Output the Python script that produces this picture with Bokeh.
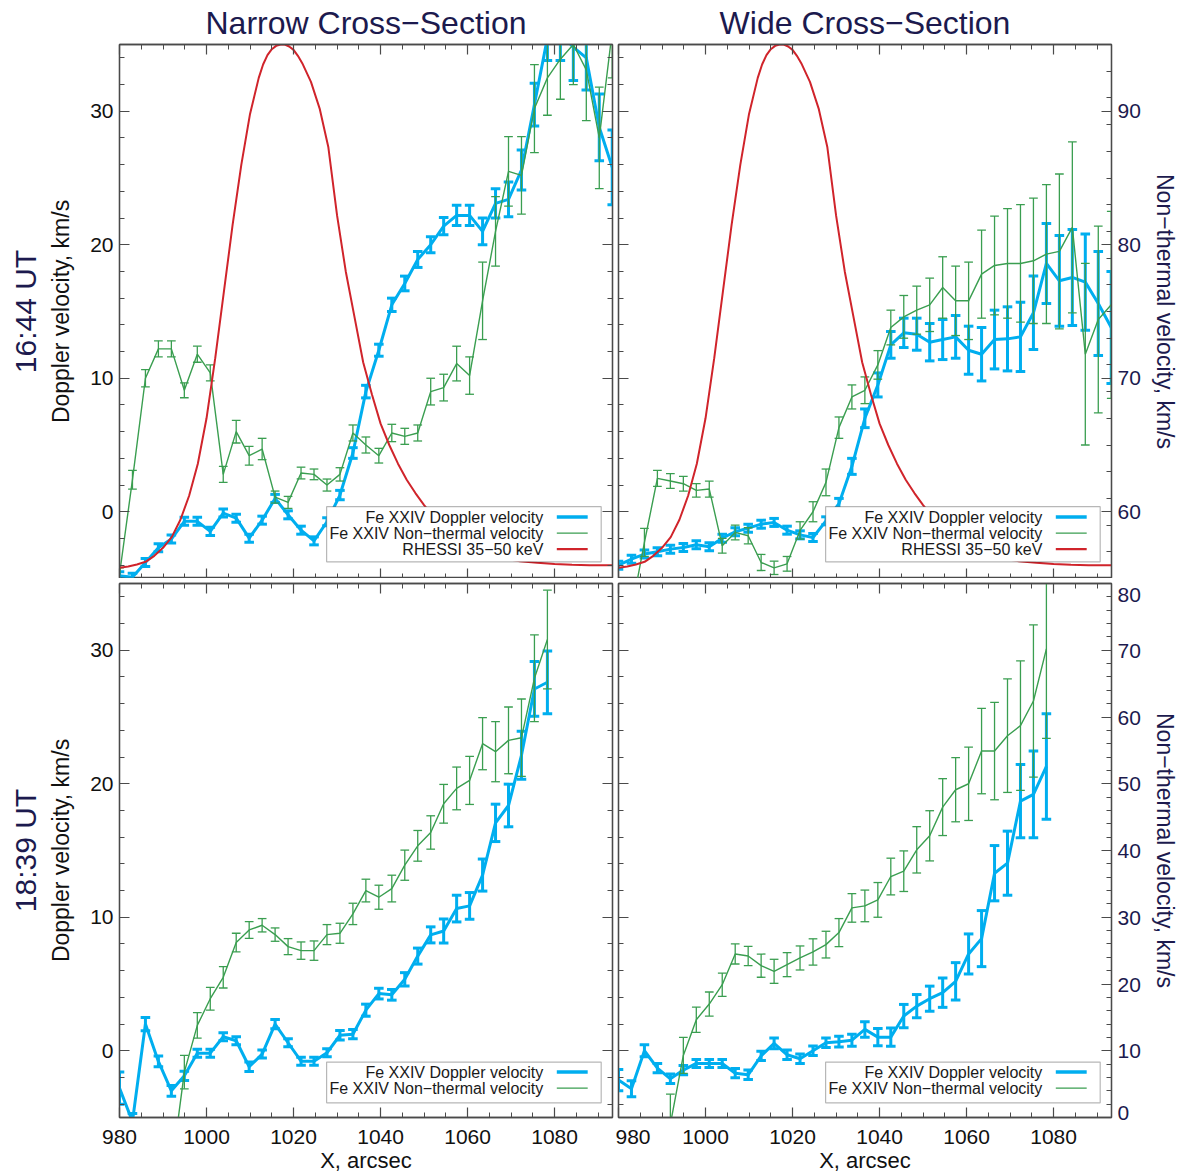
from bokeh.plotting import figure
from bokeh.models import Range1d, LinearAxis, FixedTicker, Title, BoxAnnotation, Label, Arrow
from bokeh.layouts import column, row
from bokeh.embed import file_html
from bokeh.resources import INLINE

NAN = float("nan")

# ---------------- data ----------------
# positions along the cross-sections, arcsec
x_top = [980.0, 982.98, 985.96, 988.94, 991.92, 994.9, 997.88, 1000.86, 1003.84, 1006.82,
         1009.8, 1012.78, 1015.76, 1018.74, 1021.72, 1024.7, 1027.68, 1030.66, 1033.64, 1036.62,
         1039.6, 1042.58, 1045.56, 1048.54, 1051.52, 1054.5, 1057.48, 1060.46, 1063.44, 1066.42,
         1069.4, 1072.38, 1075.36, 1078.34, 1081.32, 1084.3, 1087.28, 1090.26, 1093.24]
x_bot = [980.0, 982.98, 985.96, 988.94, 991.92, 994.9, 997.88, 1000.86, 1003.84, 1006.82,
         1009.8, 1012.78, 1015.76, 1018.74, 1021.72, 1024.7, 1027.68, 1030.66, 1033.64, 1036.62,
         1039.6, 1042.58, 1045.56, 1048.54, 1051.52, 1054.5, 1057.48, 1060.46, 1063.44, 1066.42,
         1069.4, 1072.38, 1075.36, 1078.34]

# 16:44 UT, narrow cross-section
narrow_1644_doppler = [-4.8, -4.9, -3.8, -2.7, -2.05, -0.72, -0.72, -1.47, -0.1, -0.48,
                       -1.98, -0.63, 1.0, -0.23, -1.38, -2.18, -0.75, 1.25, 4.4, 9.0,
                       12.1, 15.5, 17.1, 18.9, 20.0, 21.4, 22.2, 22.2, 21.0, 23.1,
                       23.4, 25.6, 30.5, 35.5, 35.8, 34.8, 34.0, 28.8, 25.8]
narrow_1644_doppler_err = [0.3, 0.3, 0.3, 0.3, 0.3, 0.3, 0.3, 0.3, 0.3, 0.3,
                           0.3, 0.3, 0.3, 0.3, 0.3, 0.3, 0.3, 0.35, 0.4, 0.47,
                           0.45, 0.5, 0.55, 0.6, 0.6, 0.65, 0.75, 0.75, 1.0, 1.1,
                           1.3, 1.5, 1.6, 1.7, 2.0, 2.5, 2.4, 2.5, 2.8]
narrow_1644_nonthermal = [55.3, 62.4, 70.0, 72.2, 72.2, 69.1, 71.8, 70.4, 62.8, 66.0,
                          64.2, 64.7, 61.1, 60.7, 62.9, 62.8, 62.0, 62.8, 65.9, 65.0,
                          64.2, 65.9, 65.65, 65.9, 69.0, 69.3, 71.1, 70.2, 75.8, 81.0,
                          85.5, 85.2, 90.2, 92.5, 93.9, 95.0, 93.1, 88.0, 96.0]
narrow_1644_nonthermal_err = [0.5, 0.7, 0.65, 0.6, 0.6, 0.56, 0.6, 0.6, 0.6, 0.85,
                              0.7, 0.8, 0.45, 0.45, 0.44, 0.4, 0.45, 0.5, 0.6, 0.6,
                              0.55, 0.65, 0.6, 0.6, 1.0, 1.0, 1.3, 1.4, 2.9, 2.6,
                              2.6, 2.9, 3.3, 2.8, 3.0, 3.0, 3.8, 3.8, 3.5]

# 16:44 UT, wide cross-section
wide_1644_doppler = [-4.0, -3.55, -3.17, -3.0, -2.8, -2.68, -2.47, -2.62, -1.98, -1.5,
                     -1.23, -0.93, -0.8, -1.38, -1.73, -1.93, -0.68, 0.6, 3.4, 7.0,
                     9.5, 12.5, 13.4, 13.3, 12.7, 12.9, 13.1, 12.1, 11.8, 12.9,
                     12.95, 13.1, 14.9, 18.6, 17.3, 17.55, 17.2, 15.6, 13.8]
wide_1644_doppler_err = [0.3, 0.3, 0.3, 0.3, 0.3, 0.3, 0.3, 0.3, 0.3, 0.3,
                         0.3, 0.3, 0.3, 0.3, 0.3, 0.3, 0.3, 0.4, 0.6, 0.7,
                         0.9, 1.0, 1.1, 1.2, 1.4, 1.5, 1.6, 1.8, 2.0, 2.2,
                         2.4, 2.6, 2.75, 3.0, 3.4, 3.6, 3.6, 3.9, 4.2]
wide_1644_nonthermal = [49.0, 52.6, 57.7, 62.5, 62.3, 62.1, 61.6, 61.7, 57.45, 58.45,
                        58.2, 56.2, 55.8, 56.1, 58.6, 60.0, 62.2, 66.3, 68.6, 69.1,
                        71.0, 73.8, 74.6, 75.1, 75.5, 76.8, 75.8, 75.8, 77.8, 78.45,
                        78.6, 78.6, 78.8, 79.3, 79.5, 81.3, 71.8, 74.4, 75.5]
wide_1644_nonthermal_err = [0.8, 0.9, 1.05, 0.6, 0.55, 0.55, 0.5, 0.6, 0.55, 0.55,
                            0.6, 0.6, 0.5, 0.55, 0.65, 0.75, 1.0, 0.8, 0.9, 1.0,
                            1.07, 1.3, 1.6, 1.8, 2.0, 2.3, 2.6, 2.9, 3.3, 3.7,
                            4.1, 4.4, 4.7, 5.2, 5.8, 6.4, 6.8, 7.0, 7.0]

# RHESSI 35-50 keV profile (drawn in Doppler-axis units, as in the original)
rhessi_x = [980, 982, 984, 986, 988, 990, 992, 994, 996, 998,
            1000, 1002, 1004, 1006, 1008, 1010, 1012, 1013, 1014, 1015,
            1016, 1017, 1018, 1019, 1020, 1021, 1022, 1024, 1026, 1028,
            1030, 1032, 1034, 1036, 1038, 1040, 1042, 1044, 1046, 1048,
            1050, 1052, 1054, 1056, 1058, 1060, 1064, 1068, 1072, 1076,
            1080, 1084, 1088, 1093.3]
rhessi_y = [-4.2, -4.1, -3.95, -3.75, -3.3, -2.7, -1.9, -0.6, 1.2, 3.6,
            7.0, 11.5, 16.5, 21.5, 26.0, 29.8, 32.5, 33.5, 34.2, 34.65,
            34.9, 35.0, 35.0, 34.85, 34.6, 34.15, 33.6, 32.2, 30.2, 27.3,
            22.2, 18.0, 14.6, 11.2, 8.8, 6.6, 5.0, 3.6, 2.4, 1.4,
            0.5, -0.3, -1.0, -1.6, -2.1, -2.5, -3.1, -3.5, -3.7, -3.82,
            -3.92, -3.97, -4.0, -4.0]

# 18:39 UT, narrow cross-section
narrow_1839_doppler = [-2.8, -5.3, 2.0, -0.8, -3.0, -1.88, -0.18, -0.18, 1.05, 0.75,
                       -1.2, -0.25, 2.0, 0.6, -0.78, -0.78, -0.15, 1.16, 1.24, 3.04,
                       4.28, 4.19, 5.35, 7.09, 8.68, 8.97, 10.65, 10.85, 13.16, 17.07,
                       18.37, 22.13, 27.1, 27.6]
narrow_1839_doppler_err = [1.2, 0.6, 0.5, 0.4, 0.4, 0.35, 0.3, 0.3, 0.3, 0.3,
                           0.35, 0.3, 0.35, 0.3, 0.3, 0.3, 0.3, 0.35, 0.35, 0.45,
                           0.4, 0.4, 0.5, 0.6, 0.6, 0.9, 1.0, 1.0, 1.2, 1.4,
                           1.6, 1.8, 2.05, 2.35]
narrow_1839_nonthermal = [NAN, NAN, NAN, NAN, -8.0, 6.8, 13.8, 17.8, 21.0, 26.2,
                          28.1, 28.8, 27.4, 25.6, 25.0, 25.0, 27.4, 27.6, 30.5, 34.0,
                          33.0, 34.3, 37.8, 40.7, 42.7, 47.0, 49.3, 50.5, 56.0, 54.8,
                          56.5, 56.9, 65.8, 71.6]
narrow_1839_nonthermal_err = [NAN, NAN, NAN, NAN, 3.0, 2.5, 1.9, 1.7, 1.6, 1.4,
                              1.25, 1.0, 1.0, 1.2, 1.3, 1.45, 1.5, 1.5, 1.6, 1.7,
                              1.8, 2.0, 2.26, 2.3, 2.5, 2.9, 3.2, 3.6, 3.9, 4.5,
                              5.0, 5.8, 6.5, 7.4]

# 18:39 UT, wide cross-section
wide_1839_doppler = [-2.2, -2.85, 0.0, -1.3, -2.1, -1.45, -0.95, -0.95, -0.95, -1.68,
                     -1.8, -0.38, 0.55, -0.3, -0.6, 0.0, 0.6, 0.68, 0.79, 1.6,
                     1.02, 1.02, 2.6, 3.34, 3.9, 4.35, 5.2, 7.25, 8.4, 13.3,
                     14.05, 18.7, 19.2, 21.3]
wide_1839_doppler_err = [0.8, 0.6, 0.45, 0.35, 0.35, 0.35, 0.3, 0.3, 0.3, 0.35,
                         0.35, 0.35, 0.4, 0.35, 0.35, 0.35, 0.35, 0.4, 0.45, 0.58,
                         0.65, 0.68, 0.87, 0.87, 0.94, 1.1, 1.4, 1.5, 2.1, 2.07,
                         2.4, 2.75, 3.25, 3.95]
wide_1839_nonthermal = [NAN, NAN, NAN, NAN, -1.0, 9.3, 14.65, 17.0, 19.9, 24.5,
                        24.2, 22.75, 21.9, 22.9, 23.9, 24.8, 25.9, 27.7, 31.4, 31.7,
                        32.6, 36.1, 36.9, 40.1, 42.2, 46.5, 49.1, 50.0, 54.9, 54.9,
                        57.2, 58.7, 62.4, 70.2]
wide_1839_nonthermal_err = [NAN, NAN, NAN, NAN, 4.5, 2.7, 1.9, 1.8, 1.74, 1.5,
                            1.45, 1.74, 1.8, 1.8, 1.8, 1.97, 2.0, 2.1, 2.14, 2.37,
                            2.6, 2.75, 3.04, 3.47, 3.76, 4.26, 4.8, 5.5, 6.4, 7.3,
                            8.5, 9.7, 11.4, 13.4]

column_titles = ["Narrow Cross\u2212Section", "Wide Cross\u2212Section"]
row_titles = ["16:44 UT", "18:39 UT"]
legend_labels = ["Fe XXIV Doppler velocity", "Fe XXIV Non\u2212thermal velocity", "RHESSI 35\u221250 keV"]

x_major = [980, 1000, 1020, 1040, 1060, 1080]
d_major = [0, 10, 20, 30]
nt_major_top = [60, 70, 80, 90]
nt_major_bot = [0, 10, 20, 30, 40, 50, 60, 70, 80]

# ---------------- styling ----------------
BLUE = "#00AEEF"
GREEN = "#3A9E50"
RED = "#D0242B"
NAVY = "#1C1A4E"
FRAME = "#4A4A4A"
TXT = "#111111"
FONT = "Liberation Sans"

X0, X1 = 980.0, 1093.3
D0, D1 = -5.0, 35.0


def style_axis(ax, show_labels, label_color=TXT, standoff=6):
    ax.axis_line_color = FRAME
    ax.axis_line_width = 1.3
    ax.major_tick_line_color = FRAME
    ax.minor_tick_line_color = FRAME
    ax.major_tick_line_width = 1.2
    ax.minor_tick_line_width = 1.0
    ax.major_tick_in = 10
    ax.major_tick_out = 0
    ax.minor_tick_in = 5
    ax.minor_tick_out = 0
    ax.major_label_text_font = FONT
    ax.axis_label_text_font = FONT
    ax.axis_label_text_font_style = "normal"
    if show_labels:
        ax.major_label_text_font_size = "21px"
        ax.major_label_text_color = label_color
        ax.major_label_standoff = standoff
    else:
        ax.major_label_text_font_size = "0px"
        ax.major_label_text_color = None
        ax.major_label_standoff = 0


def errorbars(p, xs, ys, es, color, lw, cap, rng="default"):
    lo = [y - e for y, e in zip(ys, es)]
    hi = [y + e for y, e in zip(ys, es)]
    xl = [x - cap for x in xs]
    xr = [x + cap for x in xs]
    kw = dict(line_color=color, line_width=lw, y_range_name=rng)
    p.segment(xs, lo, xs, hi, **kw)
    p.segment(xl, lo, xr, lo, **kw)
    p.segment(xl, hi, xr, hi, **kw)


def panel(ci, ri, xs, dop, dop_err, nt, nt_err, nt_range, nt_major, with_rhessi):
    left = ci == 0
    top = ri == 0
    p = figure(frame_width=493, frame_height=534,
               x_range=Range1d(X0, X1), y_range=Range1d(D0, D1),
               x_axis_location=None, y_axis_location=None, title=None,
               output_backend="svg", toolbar_location=None,
               min_border_left=119 if left else 3,
               min_border_right=3 if left else 69,
               min_border_top=44 if top else 5,
               min_border_bottom=0 if top else 58,
               background_fill_color="white", border_fill_color="white",
               outline_line_color=FRAME, outline_line_width=1.3)
    p.extra_y_ranges = {"nt": Range1d(*nt_range)}
    p.xgrid.visible = False
    p.ygrid.visible = False

    xt = FixedTicker(ticks=x_major, minor_ticks=list(range(980, 1095, 5)))
    dt = FixedTicker(ticks=d_major, minor_ticks=list(range(-4, 36, 2)))
    ntt = FixedTicker(ticks=nt_major, minor_ticks=list(range(int(nt_range[0]), int(nt_range[1]) + 1, 2)))

    ax_b = LinearAxis(ticker=xt)
    style_axis(ax_b, not top, standoff=12)
    if not top:
        ax_b.axis_label = "X, arcsec"
        ax_b.axis_label_text_font_size = "22px"
        ax_b.axis_label_text_color = TXT
        ax_b.axis_label_standoff = 1
    p.add_layout(ax_b, "below")
    ax_t = LinearAxis(ticker=xt)
    style_axis(ax_t, False)
    p.add_layout(ax_t, "above")

    ax_l = LinearAxis(ticker=dt)
    style_axis(ax_l, left)
    if left:
        ax_l.axis_label = "Doppler velocity, km/s"
        ax_l.axis_label_text_font_size = "23px"
        ax_l.axis_label_text_color = TXT
        ax_l.axis_label_standoff = 13
    p.add_layout(ax_l, "left")

    if left:
        ax_r = LinearAxis(ticker=dt)
        style_axis(ax_r, False)
    else:
        ax_r = LinearAxis(ticker=ntt, y_range_name="nt")
        style_axis(ax_r, True, label_color=NAVY)
        ax_r.axis_label = "Non\u2212thermal velocity, km/s"
        ax_r.axis_label_text_font_size = "23px"
        ax_r.axis_label_text_color = NAVY
        ax_r.axis_label_standoff = 8
        if not top:
            # edge labels sit slightly inside the frame, as in the original
            ax_r.major_label_text_line_height = 0.2
            ax_r.major_label_overrides = {nt_major[-1]: " \n" + str(nt_major[-1]),
                                          nt_major[0]: str(nt_major[0]) + "\n \n "}
    p.add_layout(ax_r, "right")

    if top:
        p.add_layout(Title(text=column_titles[ci], align="center", text_font=FONT,
                           text_font_size="32px", text_font_style="normal",
                           text_color=NAVY, standoff=5, vertical_align="middle"), "above")
    if left:
        p.add_layout(Title(text=row_titles[ri], align="center", text_font=FONT,
                           text_font_size="30px", text_font_style="normal",
                           text_color=NAVY, standoff=8), "left")

    # data
    errorbars(p, xs, dop, dop_err, BLUE, 3, 1.1)
    p.line(xs, dop, line_color=BLUE, line_width=3)
    errorbars(p, xs, nt, nt_err, GREEN, 1.3, 1.0, rng="nt")
    p.line(xs, nt, line_color=GREEN, line_width=1.4, y_range_name="nt")
    if with_rhessi:
        p.line(rhessi_x, rhessi_y, line_color=RED, line_width=2)

    # legend (text on the left, line sample on the right, as in the original)
    lx0, lx1 = 1027.6, 1090.7
    tx = 1077.4
    sx0, sx1 = 1080.5, 1087.6
    if top:
        btop, bbot = 0.38, -3.75
        rows = [-0.4, -1.6, -2.8]
        entries = [(legend_labels[0], BLUE, 3.5), (legend_labels[1], GREEN, 1.4), (legend_labels[2], RED, 2.2)]
    else:
        btop, bbot = -0.85, -3.9
        rows = [-1.6, -2.8]
        entries = [(legend_labels[0], BLUE, 3.5), (legend_labels[1], GREEN, 1.4)]
    p.add_layout(BoxAnnotation(left=lx0, right=lx1, top=btop, bottom=bbot,
                               fill_color="white", fill_alpha=1.0,
                               line_color="#111111", line_width=1.2))
    for (lab, col, lw), yy in zip(entries, rows):
        p.add_layout(Label(x=tx, y=yy, text=lab, text_align="right", text_baseline="middle",
                           text_font=FONT, text_font_size="16px", text_color="#1a1a1a"))
        p.add_layout(Arrow(end=None, x_start=sx0, y_start=yy, x_end=sx1, y_end=yy,
                           line_color=col, line_width=lw))
    return p


tl = panel(0, 0, x_top, narrow_1644_doppler, narrow_1644_doppler_err,
           narrow_1644_nonthermal, narrow_1644_nonthermal_err, (55, 95), nt_major_top, True)
tr = panel(1, 0, x_top, wide_1644_doppler, wide_1644_doppler_err,
           wide_1644_nonthermal, wide_1644_nonthermal_err, (55, 95), nt_major_top, True)
bl = panel(0, 1, x_bot, narrow_1839_doppler, narrow_1839_doppler_err,
           narrow_1839_nonthermal, narrow_1839_nonthermal_err, (0, 80), nt_major_bot, False)
br = panel(1, 1, x_bot, wide_1839_doppler, wide_1839_doppler_err,
           wide_1839_nonthermal, wide_1839_nonthermal_err, (0, 80), nt_major_bot, False)

layout = column(row(tl, tr, spacing=0), row(bl, br, spacing=0), spacing=0)

open("out.html", "w").write(file_html(layout, INLINE))
